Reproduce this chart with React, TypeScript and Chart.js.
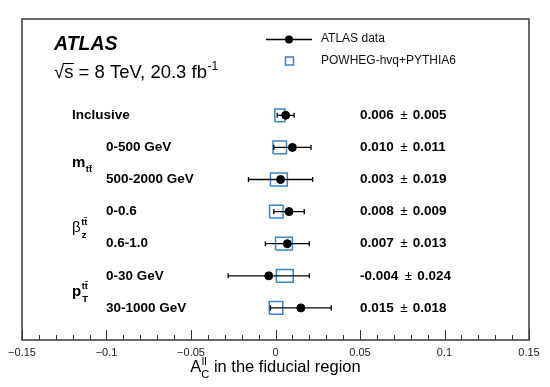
import React, { useEffect, useRef } from "react";
import { Chart, registerables } from "chart.js";

Chart.register(...registerables);

const categories = ["Inclusive", "0-500 GeV", "500-2000 GeV", "0-0.6", "0.6-1.0", "0-30 GeV", "30-1000 GeV"];
const rowPositions = [7, 6, 5, 4, 3, 2, 1];
const dataValues = [0.006, 0.010, 0.003, 0.008, 0.007, -0.004, 0.015];
const dataErrors = [0.005, 0.011, 0.019, 0.009, 0.013, 0.024, 0.018];
const predValues = [0.0026, 0.0025, 0.002, 0.0005, 0.005, 0.0055, 0.0003];
const predErrors = [0.003, 0.004, 0.005, 0.004, 0.005, 0.005, 0.004];
const valueLabels = ["0.006", "0.010", "0.003", "0.008", "0.007", "-0.004", "0.015"];
const errorLabels = ["0.005", "0.011", "0.019", "0.009", "0.013", "0.024", "0.018"];
const groupLabels = [
  { main: "m", sub: "tt\u0304", sup: "", pos: 5.5, bold: true },
  { main: "\u03b2", sub: "z", sup: "tt\u0304", pos: 3.5, bold: false },
  { main: "p", sub: "T", sup: "tt\u0304", pos: 1.5, bold: true },
];
const xMin = -0.15;
const xMax = 0.15;
const yMin = 0;
const yMax = 10;

const FONT = "'Liberation Sans', Arial, sans-serif";
const BLUE = "#3d85c6";

export default function App() {
  const ref = useRef<HTMLCanvasElement | null>(null);

  useEffect(() => {
    const canvas = ref.current;
    if (!canvas) return;

    const boxPts: any[] = [];
    predValues.forEach((v, i) => {
      const y = rowPositions[i];
      const e = predErrors[i];
      const h = 0.2;
      boxPts.push({ x: v - e, y: y - h }, { x: v + e, y: y - h }, { x: v + e, y: y + h }, { x: v - e, y: y + h }, { x: v - e, y: y - h }, { x: NaN, y: NaN });
    });
    const barPts: any[] = [];
    dataValues.forEach((v, i) => {
      const y = rowPositions[i];
      const e = dataErrors[i];
      const c = 0.08;
      barPts.push(
        { x: v - e, y }, { x: v + e, y }, { x: NaN, y: NaN },
        { x: v - e, y: y - c }, { x: v - e, y: y + c }, { x: NaN, y: NaN },
        { x: v + e, y: y - c }, { x: v + e, y: y + c }, { x: NaN, y: NaN }
      );
    });
    const pointPts = dataValues.map((v, i) => ({ x: v, y: rowPositions[i] }));

    const overlay = {
      id: "overlay",
      afterDraw(chart: any) {
        const ctx = chart.ctx as CanvasRenderingContext2D;
        const ca = chart.chartArea;
        const xs = chart.scales.x;
        const ys = chart.scales.y;
        ctx.save();
        // inward ticks
        ctx.strokeStyle = "#333";
        ctx.lineWidth = 1;
        xs.ticks.forEach((t: any) => {
          const v = t.value;
          const major = Math.abs(v * 20 - Math.round(v * 20)) < 1e-6;
          const px = Math.round(xs.getPixelForValue(v)) + 0.5;
          ctx.beginPath();
          ctx.moveTo(px, ca.bottom);
          ctx.lineTo(px, ca.bottom - (major ? 10 : 5));
          ctx.stroke();
        });
        // frame
        ctx.strokeStyle = "#3a3a3a";
        ctx.lineWidth = 1.5;
        ctx.strokeRect(ca.left, ca.top, ca.right - ca.left, ca.bottom - ca.top);

        ctx.fillStyle = "#000";
        ctx.textBaseline = "alphabetic";
        ctx.textAlign = "left";
        // ATLAS label
        ctx.font = `italic bold 19.5px ${FONT}`;
        ctx.fillText("ATLAS", 54, 49.5);
        ctx.font = `18.5px ${FONT}`;
        const sq = "\u221a";
        ctx.fillText(sq, 54, 77.5);
        const sqW = ctx.measureText(sq).width;
        const sW = ctx.measureText("s").width;
        ctx.fillText("s", 54 + sqW, 77.5);
        ctx.lineWidth = 1;
        ctx.strokeStyle = "#000";
        ctx.beginPath();
        ctx.moveTo(54 + sqW - 1, 63.5);
        ctx.lineTo(54 + sqW + sW + 0.5, 63.5);
        ctx.stroke();
        const rest = " = 8 TeV, 20.3 fb";
        ctx.fillText(rest, 54 + sqW + sW, 77.5);
        const rW = ctx.measureText(rest).width;
        ctx.font = `12px ${FONT}`;
        ctx.fillText("-1", 54 + sqW + sW + rW + 0.5, 69.5);

        // legend
        ctx.strokeStyle = "#000";
        ctx.lineWidth = 1.3;
        ctx.beginPath();
        ctx.moveTo(266, 39.5);
        ctx.lineTo(312, 39.5);
        ctx.stroke();
        ctx.beginPath();
        ctx.arc(289, 39.5, 4, 0, Math.PI * 2);
        ctx.fill();
        ctx.strokeStyle = BLUE;
        ctx.lineWidth = 1.5;
        ctx.strokeRect(285.5, 57, 8, 8);
        ctx.fillStyle = "#111";
        ctx.font = `12px ${FONT}`;
        ctx.textBaseline = "middle";
        ctx.fillText("ATLAS data", 321, 39);
        ctx.fillText("POWHEG-hvq+PYTHIA6", 321, 61);

        // category labels and values
        ctx.fillStyle = "#000";
        categories.forEach((c, i) => {
          const py = ys.getPixelForValue(rowPositions[i]);
          ctx.font = `bold 13.5px ${FONT}`;
          ctx.textBaseline = "middle";
          ctx.fillText(c, i === 0 ? 72 : 106, py);
          let x = 360;
          ctx.fillText(valueLabels[i], x, py);
          x += ctx.measureText(valueLabels[i]).width + 6.5;
          ctx.font = `13.5px ${FONT}`;
          ctx.fillText("\u00b1", x, py);
          x += ctx.measureText("\u00b1").width + 5;
          ctx.font = `bold 13.5px ${FONT}`;
          ctx.fillText(errorLabels[i], x, py);
        });

        // group labels
        ctx.textBaseline = "alphabetic";
        groupLabels.forEach((g) => {
          const py = ys.getPixelForValue(g.pos);
          const base = py + 4;
          ctx.font = `${g.bold ? "bold " : ""}15px ${FONT}`;
          ctx.fillText(g.main, 72, base);
          const mw = ctx.measureText(g.main).width;
          ctx.font = `bold 9.5px ${FONT}`;
          if (g.sup) {
            ctx.fillText(g.sup, 72 + mw + 0.5, base - 7);
            ctx.fillText(g.sub, 72 + mw + 1, base + 6);
          } else {
            ctx.fillText(g.sub, 72 + mw + 0.5, base + 5);
          }
        });

        // x-axis title
        const tBase = 372;
        ctx.font = `16.5px ${FONT}`;
        const aW = ctx.measureText("A").width;
        const restT = " in the fiducial region";
        const restW = ctx.measureText(restT).width;
        ctx.font = `11px ${FONT}`;
        const cW = ctx.measureText("C").width;
        const totalW = aW + cW + restW;
        const cx = (xs.getPixelForValue(xMin) + xs.getPixelForValue(xMax)) / 2;
        const tx = cx - totalW / 2;
        ctx.fillStyle = "#000";
        ctx.font = `16.5px ${FONT}`;
        ctx.fillText("A", tx, tBase);
        ctx.font = `11px ${FONT}`;
        ctx.fillText("C", tx + aW, tBase + 5.5);
        ctx.fillText("ll", tx + aW + 0.5, tBase - 7.5);
        ctx.font = `16.5px ${FONT}`;
        ctx.fillText(restT, tx + aW + cW, tBase);
        ctx.restore();
      },
    };

    const chart = new Chart(canvas, {
      type: "scatter",
      data: {
        datasets: [
          {
            data: pointPts,
            pointRadius: 4,
            pointBackgroundColor: "#000",
            pointBorderColor: "#000",
            showLine: false,
            order: 0,
          },
          {
            data: barPts,
            showLine: true,
            pointRadius: 0,
            borderColor: "#000",
            borderWidth: 1.3,
            spanGaps: false,
            order: 1,
          },
          {
            data: boxPts,
            showLine: true,
            pointRadius: 0,
            borderColor: BLUE,
            borderWidth: 1.5,
            spanGaps: false,
            order: 2,
          },
        ] as any,
      },
      options: {
        animation: false,
        responsive: false,
        events: [],
        layout: { padding: { left: 22, right: 21, top: 19, bottom: 0 } },
        plugins: { legend: { display: false }, tooltip: { enabled: false }, title: { display: false } },
        scales: {
          x: {
            type: "linear",
            min: xMin,
            max: xMax,
            grid: { display: false },
            border: { display: false },
            afterFit: (scale: any) => {
              scale.height = 47;
            },
            ticks: {
              stepSize: 0.01,
              autoSkip: false,
              maxRotation: 0,
              padding: -2,
              color: "#222",
              font: { family: FONT, size: 11 },
              callback: (v: any) => {
                const n = Number(v);
                if (Math.abs(n * 20 - Math.round(n * 20)) > 1e-6) return "";
                const r = Math.round(n * 100) / 100;
                return String(r).replace("-", "\u2212");
              },
            },
          },
          y: {
            type: "linear",
            display: false,
            min: yMin,
            max: yMax,
          },
        },
      } as any,
      plugins: [overlay],
    });

    return () => chart.destroy();
  }, []);

  return (
    <div style={{ position: "fixed", left: 0, top: 0, width: 550, height: 387, background: "#fff" }}>
      <canvas ref={ref} width={550} height={387} style={{ display: "block" }} />
    </div>
  );
}
